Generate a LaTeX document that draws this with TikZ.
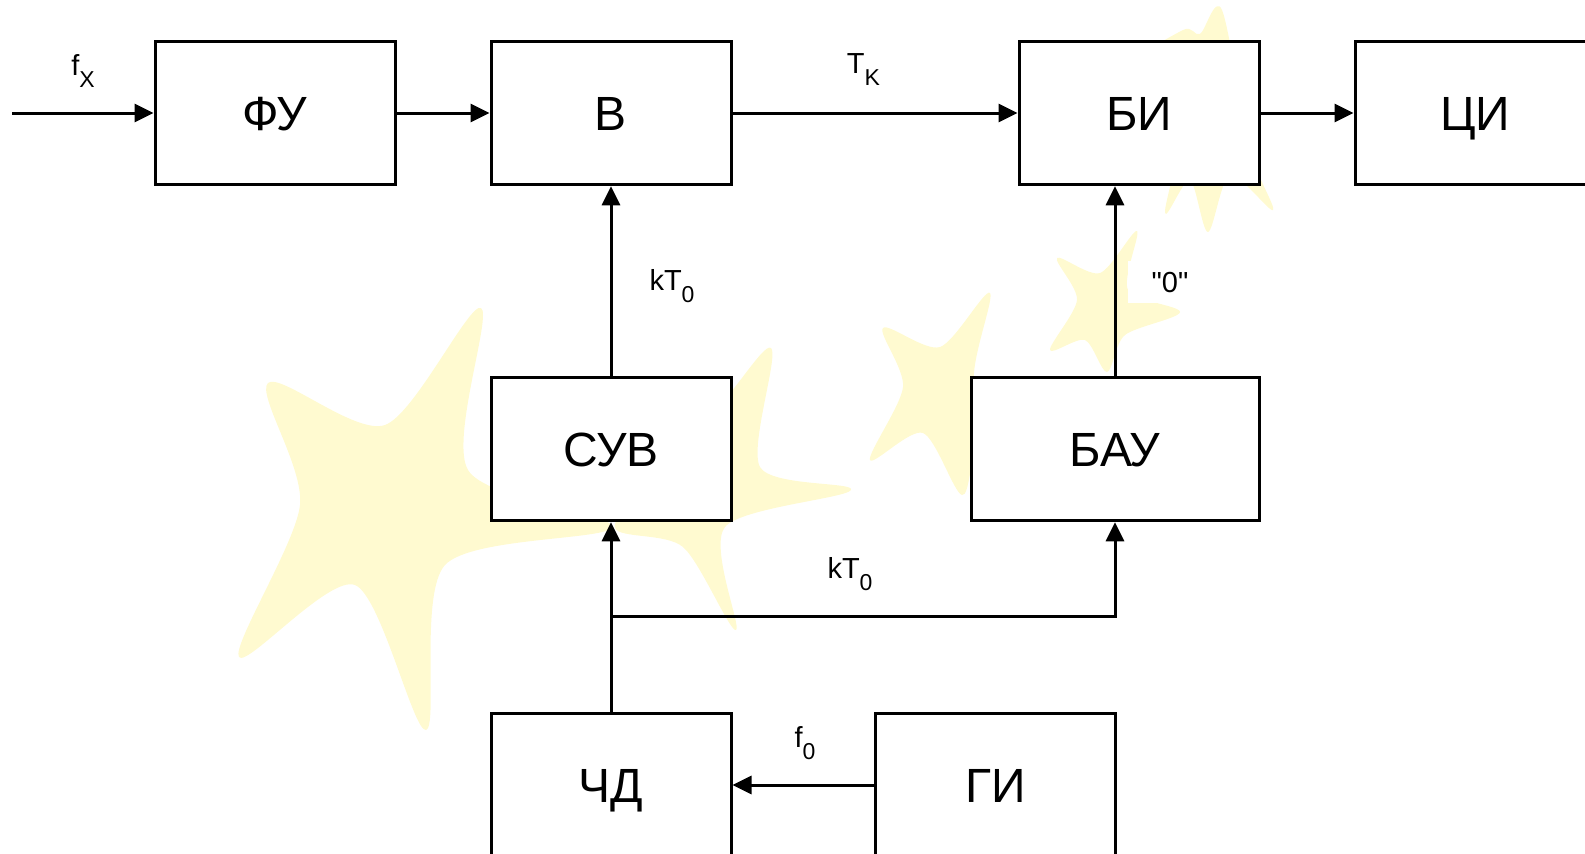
\documentclass[tikz,border=0pt]{standalone}
\usepackage{fontspec}
\setmainfont{Liberation Sans}
% same face without TeX ligatures, so that " stays a straight quote
\newfontfamily\straightq[Ligatures=TeXOff]{Liberation Sans}
\usetikzlibrary{arrows.meta}
\definecolor{starfill}{RGB}{255,250,208}
% lowered, smaller index after a symbol
\newcommand{\lblsub}[1]{\raisebox{-6pt}{\fontsize{11.5}{13}\selectfont #1}}
\begin{document}
\begin{tikzpicture}[x=0.5pt,y=-0.5pt,
  blk/.style={draw=black, line width=1.5pt, fill=white, inner sep=0pt,
    minimum width=120pt, minimum height=71.75pt,
    text height=17.2pt, text depth=0pt,
    font=\fontsize{24}{28}\selectfont},
  lbl/.style={fill=white, inner xsep=12pt, inner ysep=5.5pt, anchor=base,
    font=\fontsize{14.5}{17}\selectfont},
  wire/.style={line width=1.5pt},
  conn/.style={wire, -{Triangle[length=9.5pt,width=9pt]}},
  starshape/.style={fill=starfill, draw=none}]
\useasboundingbox (0,0) rectangle (1585,853);
\clip (0,0) rectangle (1585,853);

% pale stars in the background
\fill[starshape] plot[smooth cycle, tension=0.5] coordinates {
  (481,308) (468,470) (612,527) (445,565) (426,730)
  (355,585) (239,657) (300,505) (268,383) (385,425)};
\fill[starshape] plot[smooth cycle, tension=0.5] coordinates {
  (771,348) (760,467) (851,490) (725,527) (736,630)
  (683,547) (615,528) (650,470) (600,400) (700,420)};
\fill[starshape] plot[smooth cycle, tension=0.5] coordinates {
  (990,293) (975,385) (1040,420) (980,445) (962,495)
  (923,433) (870,460) (903,387) (883,328) (940,347)};
\fill[starshape] plot[smooth cycle, tension=0.5] coordinates {
  (1137,231) (1128,290) (1180,312) (1125,335) (1107,372)
  (1085,340) (1050,350) (1077,300) (1057,258) (1100,273)};
\fill[starshape] plot[smooth cycle, tension=0.5] coordinates {
  (1222,10) (1250,150) (1273,210) (1230,175) (1208,232)
  (1190,180) (1165,213) (1180,120) (1130,70) (1183,30) (1200,34)};

% blocks
\node[blk] (fu)  at (275,113)   {ФУ};
\node[blk] (v)   at (611,113)   {В};
\node[blk] (bi)  at (1139,113)  {БИ};
\node[blk] (ci)  at (1475,113)  {ЦИ};
\node[blk] (suv) at (611,449)   {СУВ};
\node[blk, minimum width=144pt] (bau) at (1115,449) {БАУ};
\node[blk] (chd) at (611,785)   {ЧД};
\node[blk] (gi)  at (995.5,785) {ГИ};

% signal labels
\node[lbl] (lfx)  at (83,75)     {f\lblsub{X}};
\node[lbl] (ltk)  at (863.5,73)  {T\lblsub{K}};
\node[lbl] (lkt1) at (672,290)   {kT\lblsub{0}};
\node[lbl] (lz)   at (1170,292)  {\straightq "0"};
\node[lbl] (lkt2) at (850,578)   {kT\lblsub{0}};
\node[lbl] (lf0)  at (805,747)   {f\lblsub{0}};

% connections
\coordinate (in) at (12,113);
\coordinate (split) at (611,616);
\draw[conn] (in) -- (fu.west);
\draw[conn] (fu.east) -- (v.west);
\draw[conn] (v.east) -- (bi.west);
\draw[conn] (bi.east) -- (ci.west);
\draw[conn] (suv.north) -- (v.south);
\draw[conn] (bau.north) -- (bau.north |- bi.south);
\draw[conn] (gi.west) -- (chd.east);
\draw[conn] (chd.north) -- (suv.south);
\draw[conn] (split) -| (bau.south);
\end{tikzpicture}
\end{document}
